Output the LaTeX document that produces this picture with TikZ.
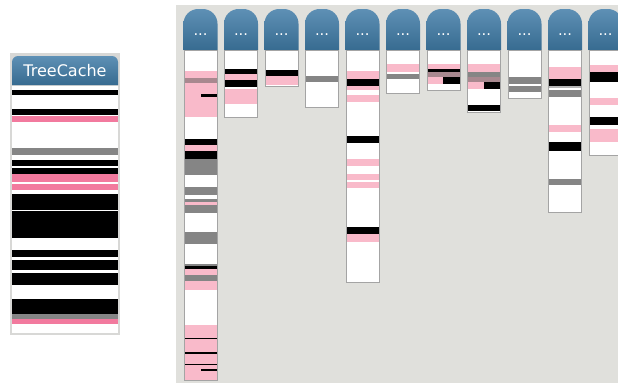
\documentclass[tikz,border=0pt]{standalone}
\usepackage{fontspec}
\newfontfamily\uifont{DejaVu Sans}
\definecolor{panelbg}{HTML}{E0E0DC}
\definecolor{hdtop}{HTML}{5E90B5}
\definecolor{hdbot}{HTML}{376B90}
\definecolor{lpink}{HTML}{F9BACA}
\definecolor{hpink}{HTML}{F27A9E}
\definecolor{stgray}{HTML}{858585}
\definecolor{ltgray}{HTML}{B4B4B4}
\definecolor{mauve}{HTML}{A8888F}
\definecolor{colborder}{HTML}{A4A4A4}
\definecolor{framegray}{HTML}{D8D8D6}
\newcommand\cx{0}
% band across the current column: #1 top, #2 bottom, #3 colour
\newcommand\band[3]{\fill[#3] (\cx+1,#1) rectangle (\cx+33,#2);}
% partial band: #1 left, #2 right, #3 top, #4 bottom, #5 colour
\newcommand\pband[5]{\fill[#5] (#1,#3) rectangle (#2,#4);}
% column header and body: #1 name, #2 x, #3 bottom
\newcommand\colbody[3]{%
  \renewcommand\cx{#2}%
  \shade[top color=hdtop,bottom color=hdbot] (#2,50) [rounded corners=11pt] -- (#2,9) -- (#2+34,9) [sharp corners] -- (#2+34,50) -- cycle;
  \node[dots] (#1) at (#2+17,34.5) {...};
  \fill[white] (#2,50) rectangle (#2+34,#3);}
\newcommand\colframe[2]{\draw[colborder,line width=0.75pt] (\cx+0.5,50) rectangle (\cx+33.5,#2);}
\begin{document}
\begin{tikzpicture}[x=0.75pt,y=-0.75pt,
  dots/.style={text=white,font=\uifont\fontsize{11}{11}\selectfont,inner sep=0pt},
  title/.style={text=white,font=\uifont\fontsize{12}{12}\selectfont,inner sep=0pt}]
\useasboundingbox (0,0) rectangle (618,383);
\fill[white] (0,0) rectangle (618,383);

% ---------------- TreeCache box
\fill[framegray] (10,53) rectangle (120,335);
\shade[top color=hdtop,bottom color=hdbot] (12,85) [rounded corners=4.5pt] -- (12,56) -- (118,56) [sharp corners] -- (118,85) -- cycle;
\node[title] (tc) at (65,70.5) {TreeCache};
\fill[white] (12,86) rectangle (118,333);
\renewcommand\cx{12}
\begin{scope}
\def\tb#1#2#3{\fill[#3] (12,#1) rectangle (118,#2);}
\tb{89.5}{94.5}{black}
\tb{108.5}{114.5}{black}
\tb{116}{121.5}{hpink}
\tb{147.5}{154.5}{stgray}
\tb{160}{166}{black}
\tb{167.5}{174}{black}
\tb{174}{181.5}{hpink}
\tb{183.5}{190}{hpink}
\tb{193.5}{209.5}{black}
\tb{211}{237.5}{black}
\tb{250}{256.5}{black}
\tb{259.5}{270}{black}
\tb{272.5}{285}{black}
\tb{298.5}{313.5}{black}
\tb{313.5}{318.5}{stgray}
\tb{318.5}{324}{hpink}
\end{scope}

% ---------------- panel
\begin{scope}
\clip (176,5) rectangle (618,383);
\fill[panelbg] (176,5) rectangle (618,383);

% column 1
\colbody{c1}{183.5}{380}
\band{71}{78}{lpink}
\band{78}{83}{mauve}
\band{83}{116.5}{lpink}
\pband{201}{216.5}{93.5}{96.5}{black}
\band{138.5}{144.5}{black}
\band{144.5}{151}{lpink}
\band{151}{158.5}{black}
\band{158.5}{175}{stgray}
\band{187}{195}{stgray}
\band{199}{202}{stgray}
\band{202}{205}{lpink}
\band{205}{213}{stgray}
\band{231.5}{243.5}{stgray}
\band{263.5}{266}{stgray}
\band{266}{268.5}{black}
\band{268.5}{274.5}{lpink}
\band{274.5}{280.5}{stgray}
\band{280.5}{290}{lpink}
\band{325}{380}{lpink}
\band{337.5}{339}{black}
\band{352}{353.5}{black}
\band{363.5}{365}{black}
\pband{201}{216.5}{369}{370.5}{black}
\colframe{c1}{380}

% column 2
\colbody{c2}{224}{117}
\band{68.5}{73.5}{black}
\band{73.5}{80}{lpink}
\band{80}{86.5}{black}
\band{88.5}{103.5}{lpink}
\colframe{c2}{117}

% column 3
\colbody{c3}{264.5}{86}
\band{70}{75.5}{black}
\band{75.5}{85}{lpink}
\colframe{c3}{86}

% column 4
\colbody{c4}{305}{107}
\band{75.5}{81.5}{stgray}
\colframe{c4}{107}

% column 5
\colbody{c5}{345.5}{282}
\band{71}{78.5}{lpink}
\band{78.5}{85.5}{black}
\band{85.5}{90}{lpink}
\band{95}{102}{lpink}
\band{135.5}{142.5}{black}
\band{158.5}{165.5}{lpink}
\band{173.5}{180}{lpink}
\band{181.5}{187.5}{lpink}
\band{226.5}{234}{black}
\band{234}{241.5}{lpink}
\colframe{c5}{282}

% column 6
\colbody{c6}{386}{93}
\band{63.5}{71.5}{lpink}
\band{73.5}{78.5}{stgray}
\colframe{c6}{93}

% column 7
\colbody{c7}{426.5}{90}
\band{63.5}{68.5}{lpink}
\band{68.5}{71.5}{black}
\band{71.5}{76.5}{mauve}
\pband{427.5}{443}{76.5}{83.5}{lpink}
\pband{443}{459.5}{76.5}{83.5}{black}
\colframe{c7}{90}

% column 8
\colbody{c8}{467}{112}
\band{64}{71.5}{lpink}
\band{71.5}{76.5}{stgray}
\band{76.5}{81.5}{mauve}
\pband{468}{484}{81.5}{88.5}{lpink}
\pband{484}{500}{81.5}{88.5}{black}
\band{104.5}{111}{black}
\colframe{c8}{112}

% column 9
\colbody{c9}{507.5}{98}
\band{76.5}{83.5}{stgray}
\band{85.5}{91.5}{stgray}
\colframe{c9}{98}

% column 10
\colbody{c10}{548}{212}
\band{66.5}{78.5}{lpink}
\band{78.5}{85.5}{black}
\band{85.5}{88}{ltgray}
\band{90}{96.5}{stgray}
\band{124.5}{131.5}{lpink}
\band{141.5}{151}{black}
\band{178.5}{185}{stgray}
\colframe{c10}{212}

% column 11
\colbody{c11}{588.5}{155}
\band{65}{71.5}{lpink}
\band{71.5}{81.5}{black}
\band{97.5}{104.5}{lpink}
\band{116.5}{124.5}{black}
\band{128.5}{141.5}{lpink}
\colframe{c11}{155}
\end{scope}
\end{tikzpicture}
\end{document}
